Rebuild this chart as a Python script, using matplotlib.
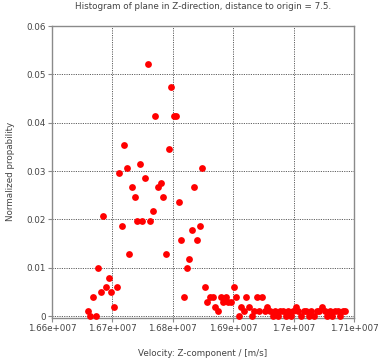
import matplotlib
matplotlib.use("Agg")
import matplotlib.pyplot as plt
from matplotlib.ticker import FixedLocator

# Bin centres (m/s)
velocity = [
    16659400, 16663700, 16668000, 16672300, 16676600, 16680900, 16685200, 16689500, 16693800, 16698100,
    16702500, 16706800, 16711100, 16715400, 16719700, 16724000, 16728300, 16732600, 16736900, 16741200,
    16745500, 16749800, 16754100, 16758400, 16762700, 16767000, 16771300, 16775600, 16779900, 16784200,
    16788600, 16792900, 16797200, 16801500, 16805800, 16810100, 16814400, 16818700, 16823000, 16827300,
    16831600, 16835900, 16840200, 16844500, 16848800, 16853100, 16857400, 16861700, 16866000, 16870300,
    16874700, 16879000, 16883300, 16887600, 16891900, 16896200, 16900500, 16904800, 16909100, 16913400,
    16917700, 16922000, 16926300, 16930600, 16934900, 16939200, 16943500, 16947800, 16952100, 16956400,
    16960800, 16965100, 16969400, 16973700, 16978000, 16982300, 16986600, 16990900, 16995200, 16999500,
    17003800, 17008100, 17012400, 17016700, 17021000, 17025300, 17029600, 17033900, 17038200, 17042500,
    17046900, 17051200, 17055500, 17059800, 17064100, 17068400, 17072700, 17077000, 17081300, 17085600,
]

probability = [
    0.00099, 0.0, 0.00394, 0.0, 0.00985, 0.00493, 0.02069, 0.00591, 0.00788, 0.00493,
    0.00197, 0.00591, 0.02955, 0.01872, 0.03546, 0.03054, 0.01281, 0.0266, 0.02463, 0.0197,
    0.03152, 0.0197, 0.02857, 0.05221, 0.0197, 0.02167, 0.04137, 0.0266, 0.02758, 0.02463,
    0.01281, 0.03448, 0.04728, 0.04137, 0.04137, 0.02364, 0.01576, 0.00394, 0.00985, 0.01182,
    0.01773, 0.0266, 0.01576, 0.01872, 0.03054, 0.00591, 0.00296, 0.00394, 0.00394, 0.00197,
    0.00099, 0.00394, 0.00296, 0.00394, 0.00296, 0.00296, 0.00591, 0.00394, 0.0, 0.00197,
    0.00099, 0.00394, 0.00197, 0.0, 0.00099, 0.00394, 0.00099, 0.00394, 0.00099, 0.00197,
    0.00099, 0.0, 0.00099, 0.0, 0.00099, 0.00099, 0.0, 0.00099, 0.0, 0.00099,
    0.00197, 0.00099, 0.0, 0.00099, 0.00099, 0.0, 0.00099, 0.0, 0.00099, 0.00099,
    0.00197, 0.00099, 0.0, 0.00099, 0.0, 0.00099, 0.00099, 0.0, 0.00099, 0.00099,
]

x_ticks = [1.66e7, 1.67e7, 1.68e7, 1.69e7, 1.70e7, 1.71e7]
x_tick_labels = ["1.66e+007", "1.67e+007", "1.68e+007", "1.69e+007", "1.7e+007", "1.71e+007"]
y_ticks = [0, 0.01, 0.02, 0.03, 0.04, 0.05, 0.06]
y_tick_labels = ["0", "0.01", "0.02", "0.03", "0.04", "0.05", "0.06"]

W, H = 383, 359
fig = plt.figure(figsize=(W / 100, H / 100), dpi=100)
fig.patch.set_facecolor("white")
left, right, top, bottom = 52, 354, 26, 317.5
ax = fig.add_axes([left / W, (H - bottom) / H, (right - left) / W, (bottom - top) / H])

ax.plot(velocity, probability, linestyle="none", marker="o", color="#ff0000",
        markersize=4.9, markeredgewidth=0, clip_on=False, zorder=3)

ax.set_xlim(1.66e7, 1.71e7)
ax.set_ylim(-0.0003, 0.06)

ax.xaxis.set_major_locator(FixedLocator(x_ticks))
ax.set_xticklabels(x_tick_labels)
ax.yaxis.set_major_locator(FixedLocator(y_ticks))
ax.set_yticklabels(y_tick_labels)

ax.grid(True, color="#606060", linestyle=(0, (1.2, 1.2)), linewidth=0.7)
ax.set_axisbelow(True)

for s in ax.spines.values():
    s.set_color("#8a8a8a")
    s.set_linewidth(1.0)

ax.tick_params(axis="both", which="both", labelsize=6.3, colors="#8a8a8a",
               labelcolor="#444444", length=3, width=0.8, direction="out", pad=1.5)

ax.set_title("Histogram of plane in Z-direction, distance to origin = 7.5.",
             fontsize=6.3, color="#444444", pad=12)
ax.set_xlabel("Velocity: Z-component / [m/s]", fontsize=6.3, color="#444444", labelpad=12)
ax.set_ylabel("Normalized propability", fontsize=6.3, color="#444444", labelpad=8)

fig.savefig("out.png", dpi=100)
